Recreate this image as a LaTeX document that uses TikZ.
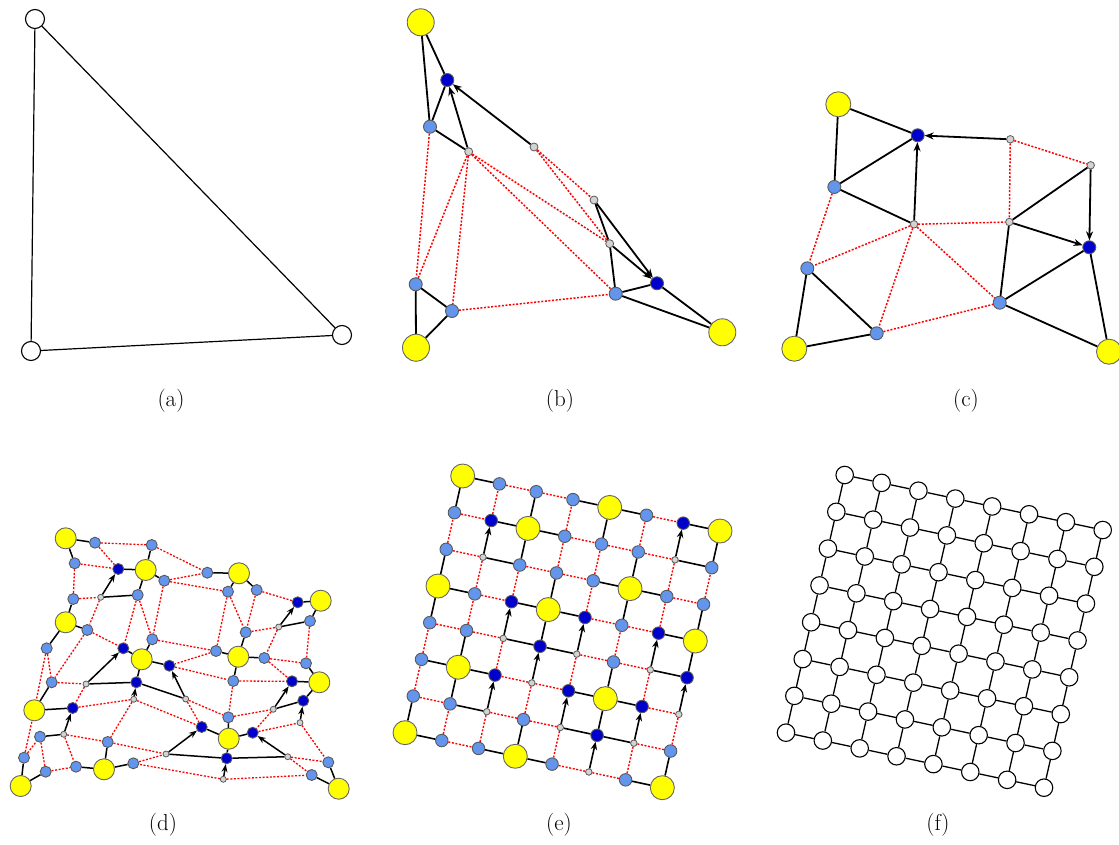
\documentclass[tikz,border=0pt]{standalone}
\usetikzlibrary{arrows.meta}
\definecolor{nodeyellow}{HTML}{FFFF00}
\definecolor{lightblu}{HTML}{6495ED}
\definecolor{darkblu}{HTML}{0000CD}
\definecolor{nodegrey}{HTML}{D3D3D3}

\begin{document}
\begin{tikzpicture}[x=1pt,y=-1pt,
  wh/.style={circle,draw=black,fill=white,line width=1.1pt,inner sep=0pt,minimum size=19pt},
  yel/.style={circle,draw=black!60,fill=nodeyellow,line width=0.9pt,inner sep=0pt,minimum size=25pt},
  lb/.style={circle,draw=black!65,fill=lightblu,line width=0.9pt,inner sep=0pt,minimum size=13pt},
  db/.style={circle,draw=black!65,fill=darkblu,line width=0.9pt,inner sep=0pt,minimum size=13pt},
  gr/.style={circle,draw=black!65,fill=nodegrey,line width=0.8pt,inner sep=0pt,minimum size=7pt},
  ln/.style={black,line width=1.8pt},
  ar/.style={ln,-{Stealth[length=9pt,width=7pt]}},
  dt/.style={red,line width=1.5pt,dash pattern=on 2pt off 1.6pt},
  lab/.style={font=\fontsize{23}{27}\selectfont,inner sep=0pt}]
\useasboundingbox (0,0) rectangle (1119,845);

% (a)
\node[wh] (a-t) at (35,19) {};
\node[wh] (a-l) at (31,351) {};
\node[wh] (a-r) at (342,335) {};
\draw[line width=1.2pt] (a-t) -- (a-l) -- (a-r) -- (a-t);
\node[lab] (cap-a) at (171,401) {(a)};

% (b)
\begin{scope}[yel/.append style={minimum size=27pt},gr/.append style={minimum size=8pt}]
\node[yel] (b-y1) at (420.7,22.3) {};
\node[db] (b-d1) at (447.3,80) {};
\node[lb] (b-l1) at (430,126.7) {};
\node[gr] (b-g1) at (468.7,151.7) {};
\node[gr] (b-g2) at (534,147) {};
\node[gr] (b-g3) at (594,200) {};
\node[gr] (b-g4) at (609.7,243.7) {};
\node[db] (b-d2) at (657,283.3) {};
\node[lb] (b-l4) at (615.7,293.7) {};
\node[yel] (b-y3) at (722.3,332.3) {};
\node[lb] (b-l2) at (415.7,284.3) {};
\node[lb] (b-l3) at (452,311) {};
\node[yel] (b-y2) at (416,347.7) {};
\foreach \p/\q in {b-y1/b-d1,b-y1/b-l1,b-l1/b-d1,b-l1/b-g1,b-g3/b-g4,b-g4/b-l4,
    b-l4/b-d2,b-l4/b-y3,b-d2/b-y3,b-l2/b-y2,b-l2/b-l3,b-l3/b-y2}
  \draw[ln] (\p) -- (\q);
\foreach \p/\q in {b-g1/b-d1,b-g2/b-d1,b-g3/b-d2,b-g4/b-d2}
  \draw[ar] (\p) -- (\q);
\foreach \p/\q in {b-l1/b-l2,b-g1/b-l2,b-g1/b-l3,b-g1/b-g4,b-g1/b-l4,b-g2/b-g3,
    b-g2/b-g4,b-l3/b-l4}
  \draw[dt] (\p) -- (\q);
\end{scope}
\node[lab] (cap-b) at (560,401) {(b)};

% (c)
\begin{scope}[gr/.append style={minimum size=7.5pt}]
\node[yel] (c-y1) at (838.3,104.3) {};
\node[db] (c-d1) at (917.7,135.3) {};
\node[gr] (c-g1) at (1010.3,139.3) {};
\node[gr] (c-g2) at (1090.7,165.3) {};
\node[lb] (c-l1) at (834.3,187) {};
\node[gr] (c-g0) at (914,224.3) {};
\node[gr] (c-g3) at (1009.3,222) {};
\node[db] (c-d2) at (1089.3,247.3) {};
\node[lb] (c-l2) at (807.3,268.3) {};
\node[lb] (c-l4) at (999.7,302.7) {};
\node[lb] (c-l3) at (876.7,333.3) {};
\node[yel] (c-y2) at (794.3,348.7) {};
\node[yel] (c-y3) at (1109,351.7) {};
\foreach \p/\q in {c-y1/c-d1,c-y1/c-l1,c-l1/c-d1,c-l1/c-g0,c-g2/c-g3,c-g3/c-l4,
    c-l4/c-d2,c-l4/c-y3,c-d2/c-y3,c-l2/c-y2,c-l2/c-l3,c-l3/c-y2}
  \draw[ln] (\p) -- (\q);
\foreach \p/\q in {c-g0/c-d1,c-g1/c-d1,c-g2/c-d2,c-g3/c-d2}
  \draw[ar] (\p) -- (\q);
\foreach \p/\q in {c-g1/c-g2,c-g1/c-g3,c-l1/c-l2,c-g0/c-l2,c-g0/c-l3,c-g0/c-g3,
    c-g0/c-l4,c-l3/c-l4}
  \draw[dt] (\p) -- (\q);
\end{scope}
\node[lab] (cap-c) at (966,401) {(c)};

% (d)
\begin{scope}[yel/.append style={minimum size=21pt},lb/.append style={minimum size=11pt},
    db/.append style={minimum size=11pt},gr/.append style={minimum size=6pt},
    ln/.append style={line width=1.5pt},dt/.append style={line width=1.3pt},
    ar/.append style={-{Stealth[length=8pt,width=6pt]}}]
\foreach \nm/\px/\py in {Y1/65.7/538.3,Y2/145.7/570,Y3/239/573.3,Y4/320.7/600.7,
    Y5/65.7/622.3,Y6/141.7/659.3,Y7/238.3/656.7,Y8/319.3/682.3,Y9/34.3/710.3,
    Y10/228.7/738.7,Y11/104/769.3,Y12/20.7/786,Y13/338.7/788.7}
  \node[yel] (d-\nm) at (\px,\py) {};
\foreach \nm/\px/\py in {a/95/542.7,b/151.7/545,c/74.7/563.3,d/164.3/580.7,
    e/207.3/572.7,f/73.3/599,g/137.7/595,h/228/591.7,i/256.7/590,j/310/621,
    k/87.3/630,l/152.3/639.3,m/245.7/632.3,n/46.7/648.3,o/216/651,p/264.3/658,
    q/306/663.3,r/51.7/682.3,s/233.3/681,t/228.3/717.3,u/40/736.7,v/107.7/742,
    w/24/757.7,x/45.7/771.7,y/76/766.7,z/133.3/763.3,aa/328.3/762.3,bb/311.7/775}
  \node[lb] (d-\nm) at (\px,\py) {};
\foreach \nm/\px/\py in {D1/118.3/569,D2/123.3/648.3,D3/169.3/665.7,D4/136.3/682.3,
    D5/72.7/708,D6/297.7/602.3,D7/292/681.3,D8/303.3/700.7,D9/201.7/727,
    D10/252.7/732.7,D11/226.7/758.3}
  \node[db] (d-\nm) at (\px,\py) {};
\foreach \nm/\px/\py in {G1/100.7/597.3,G2/86/684,G3/133.7/699.3,G4/185.7/699,
    G5/63.7/734.3,G6/166/754,G7/223.3/779.3,G8/278.7/627,G9/273.3/709.3,
    G10/300/722.7,G11/287.7/756.7}
  \node[gr] (d-\nm) at (\px,\py) {};
\foreach \p/\q in {Y1/a,Y1/c,b/Y2,D1/Y2,Y2/d,Y2/g,G1/g,f/Y5,Y5/k,Y5/n,e/Y3,Y3/h,
    Y3/i,Y4/D6,Y4/j,G8/j,l/Y6,D2/Y6,Y6/D3,Y6/D4,G2/D4,D4/G4,m/Y7,o/Y7,Y7/p,Y7/s,
    q/Y8,D7/Y8,Y8/D8,G9/D8,r/Y9,Y9/D5,u/G5,w/Y12,Y12/x,y/Y11,v/Y11,Y11/z,G6/D11,
    D11/G11,D9/Y10,Y10/D10,Y10/D11,t/Y10,aa/Y13,bb/Y13}
  \draw[ln] (d-\p) -- (d-\q);
\foreach \p/\q in {G1/D1,G8/D6,G2/D2,G4/D3,G3/D4,G9/D7,G10/D8,G5/D5,G6/D9,
    G11/D10,G7/D11}
  \draw[ar] (d-\p) -- (d-\q);
\foreach \p/\q in {a/b,a/D1,c/D1,c/f,f/G1,b/e,d/e,d/h,d/l,g/l,g/D2,G1/k,k/D2,n/r,
    k/r,r/G2,l/o,h/o,h/m,i/m,i/D6,m/G8,G8/p,j/q,p/q,p/D7,o/D3,D3/s,s/D7,s/t,G4/t,
    G4/D9,t/G9,G9/D10,D10/G10,G10/aa,G11/aa,G11/bb,G7/bb,G7/z,z/G6,G3/D9,G3/v,
    D5/G3,G2/D5,G5/v,v/G6,G5/y,u/x,x/y,w/Y9,w/u,n/Y9}
  \draw[dt] (d-\p) -- (d-\q);
\end{scope}
\node[lab] (cap-d) at (163,825) {(d)};

% (e)
\begin{scope}[yel/.append style={minimum size=24pt},lb/.append style={minimum size=12.5pt},
    db/.append style={minimum size=12.5pt},gr/.append style={minimum size=6.5pt},
    ln/.append style={line width=1.6pt},dt/.append style={line width=1.4pt},
    ar/.append style={-{Stealth[length=8pt,width=6.5pt]}}]
\foreach \row [count=\ry from 0] in {{yel,lb,lb,lb,yel,lb,db,yel},
    {lb,db,yel,lb,lb,lb,gr,lb},{lb,gr,lb,lb,lb,yel,lb,lb},
    {yel,lb,db,yel,db,lb,db,yel},{lb,lb,gr,db,gr,lb,gr,db},
    {lb,yel,db,gr,db,yel,db,gr},{lb,lb,gr,lb,gr,db,gr,lb},
    {yel,lb,lb,yel,lb,gr,lb,yel}}{
  \foreach \t [count=\cx from 0] in \row
    \node[\t] (e-\cx-\ry) at ({462.7+36.76*\cx-8.24*\ry},{476+7.86*\cx+36.67*\ry}) {};
}
\foreach \typs [count=\ry from 0] in {{ln,dt,dt,ln,ln,dt,ln},{dt,ln,ln,dt,dt,dt,ln},
    {dt,ln,dt,dt,ln,ln,dt},{ln,dt,ln,ln,dt,dt,ln},{dt,dt,ln,ln,dt,dt,ln},
    {ln,ln,dt,dt,ln,ln,dt},{dt,ln,dt,dt,ln,ln,dt},{ln,dt,ln,ln,dt,dt,ln}}{
  \foreach \t [count=\cx from 0] in \typs {
    \pgfmathtruncatemacro\nx{\cx+1}
    \draw[\t] (e-\cx-\ry) -- (e-\nx-\ry);
  }
}
\foreach \typs [count=\cx from 0] in {{ln,dt,ln,ln,dt,dt,ln},{dt,ar,dt,dt,ln,ln,dt},
    {ln,ln,dt,ar,dt,ar,dt},{dt,dt,ln,ln,ar,dt,ln},{ln,dt,dt,ar,dt,ar,dt},
    {dt,ln,ln,dt,ln,ln,ar},{ar,dt,dt,ar,dt,ar,dt},{ln,dt,ln,ln,ar,dt,ln}}{
  \foreach \t [count=\ry from 0] in \typs {
    \pgfmathtruncatemacro\ny{\ry+1}
    \draw[\t] (e-\cx-\ny) -- (e-\cx-\ry);
  }
}
\end{scope}
\node[lab] (cap-e) at (559,825) {(e)};

% (f)
\begin{scope}[wh/.append style={minimum size=17.5pt}]
\foreach \ry in {0,...,7}{
  \foreach \cx in {0,...,7}
    \node[wh] (f-\cx-\ry) at ({844.7+36.86*\cx-8.39*\ry},{475+7.86*\cx+36.81*\ry}) {};
}
\foreach \ry in {0,...,7}{
  \foreach \cx [evaluate=\cx as \nx using int(\cx+1)] in {0,...,6} {
    \draw[line width=1.3pt] (f-\cx-\ry) -- (f-\nx-\ry);
    \draw[line width=1.3pt] (f-\ry-\cx) -- (f-\ry-\nx);
  }
}
\end{scope}
\node[lab] (cap-f) at (938,825) {(f)};
\end{tikzpicture}
\end{document}
